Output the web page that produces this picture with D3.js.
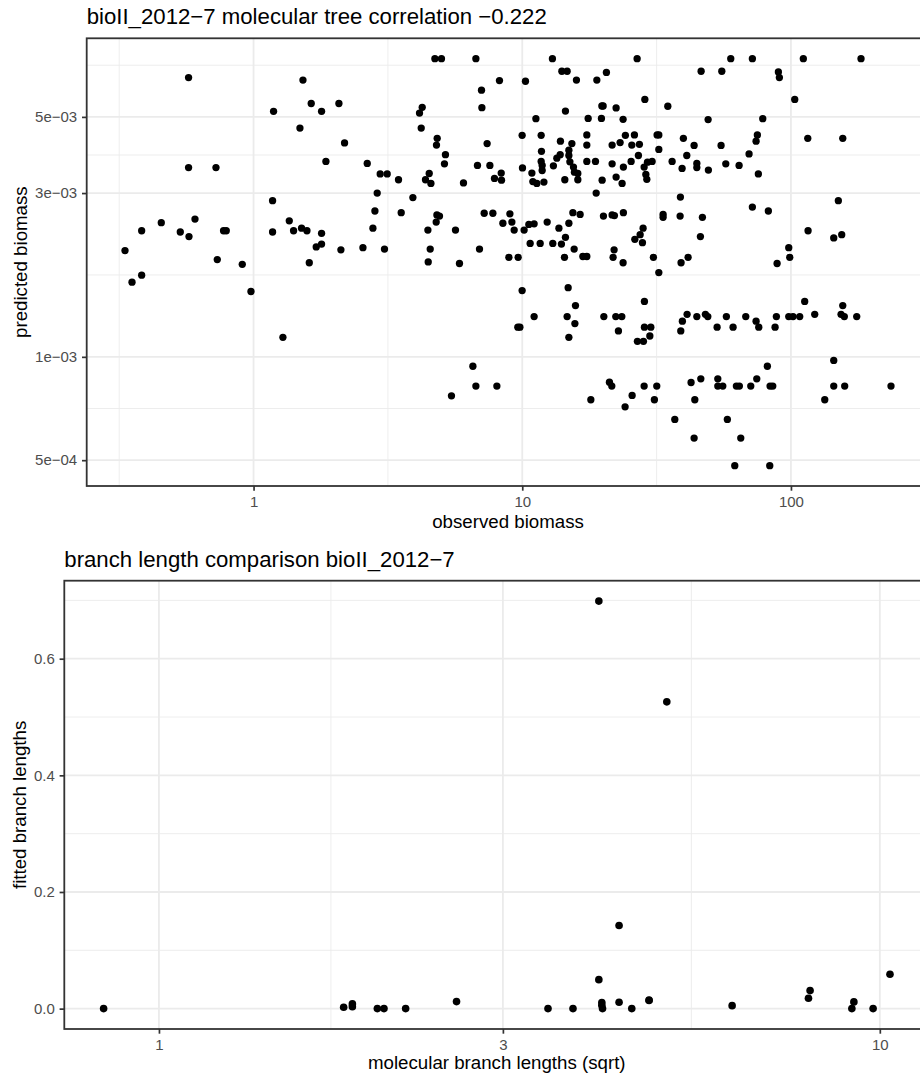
<!DOCTYPE html>
<html><head><meta charset="utf-8">
<script src="https://cdn.jsdelivr.net/npm/d3@7"></script>
<style>body{margin:0;background:#fff}svg{display:block}</style>
</head><body><svg id="c" width="920" height="1076"></svg>
<script>
// ---------- data: top panel ----------
const observedBiomass = [
0.573,1.527,4.730,5.004,1.187,1.639,1.791,2.078,1.488,2.181,
4.146,4.243,4.207,4.824,4.795,5.178,5.134,1.859,2.649,2.960,
3.143,3.463,4.505,4.364,4.571,0.573,0.7246,2.885,3.917,1.177,
2.829,3.544,4.812,4.920,4.783,0.4535,0.6053,1.358,0.3833,0.5337,
0.575,0.7732,0.7913,1.177,1.409,1.509,1.580,1.791,1.711,1.791,
2.781,4.455,5.643,0.3323,2.114,2.553,3.071,4.544,1.612,0.7328,
0.9078,4.467,5.839,0.3529,0.3833,0.978,1.286,5.452,
6.721,12.95,26.76,59.70,71.85,111.2,182.3,14.04,14.69,20.57,
46.31,55.29,89.79,90.56,8.226,10.28,15.91,18.95,7.052,7.076,
28.59,34.81,103.3,14.48,19.78,20.00,22.35,11.24,17.59,19.71,
23.73,49.17,78.54,9.99,11.76,17.39,17.39,13.87,15.30,7.40,
21.60,23.13,24.20,26.15,25.57,27.29,31.76,32.23,32.23,39.78,
43.61,54.95,74.99,74.17,115.5,155.9,11.79,14.91,14.91,13.84,
13.45,27.06,40.96,69.84,6.813,7.577,10.02,11.76,11.86,11.86,
13.06,15.04,15.51,17.39,18.73,21.60,23.79,25.42,28.42,29.24,
30.43,36.12,39.34,44.64,44.64,49.29,57.21,64.12,75.63,7.882,
8.35,8.37,10.86,10.95,11.33,12.04,14.40,15.64,16.10,16.10,
19.83,22.35,23.53,28.84,29.08,6.043,18.84,38.78,71.85,82.40,
150.1,7.217,7.774,8.995,8.47,9.149,9.330,10.16,10.58,11.07,
12.38,13.69,14.91,15.43,16.42,20.05,21.60,22.03,23.79,33.43,
33.43,38.68,46.83,10.70,11.66,12.99,13.99,14.48,15.60,26.24,
27.46,28.17,28.01,46.03,115.8,144.3,154.5,6.932,8.917,9.654,
14.36,16.81,17.39,21.97,21.78,23.73,30.77,32.23,39.00,41.42,
98.13,98.97,88.80,
9.99,14.82,15.78,11.07,14.69,15.70,14.91,9.628,9.797,20.12,
22.29,23.47,22.80,28.49,28.49,30.09,29.84,26.83,28.25,38.90,
39.44,41.07,44.64,48.04,49.04,53.11,57.50,60.90,67.89,74.17,
75.89,87.28,88.27,98.13,101.8,107.8,112.5,122.6,155.9,153.6,
158.0,175.7,6.550,6.721,8.045,18.00,21.11,21.54,24.14,25.64,
28.42,31.03,31.67,36.96,42.49,46.19,43.87,43.61,53.43,53.43,
55.76,57.99,62.65,64.27,65.05,61.79,70.87,74.61,81.70,83.61,
85.58,83.40,133.6,144.3,144.3,158.5,235.7
];
const predictedBiomass = [
6.51e-3,6.40e-3,7.39e-3,7.39e-3,5.19e-3,5.47e-3,5.19e-3,5.47e-3,4.64e-3,4.20e-3,
5.13e-3,5.33e-3,4.64e-3,4.33e-3,4.14e-3,3.88e-3,3.65e-3,3.71e-3,3.66e-3,3.41e-3,
3.41e-3,3.28e-3,3.42e-3,3.28e-3,3.20e-3,3.56e-3,3.56e-3,3.00e-3,2.91e-3,2.85e-3,
2.66e-3,2.63e-3,2.59e-3,2.57e-3,2.47e-3,2.46e-3,2.52e-3,2.49e-3,2.33e-3,2.31e-3,
2.24e-3,2.33e-3,2.33e-3,2.31e-3,2.33e-3,2.37e-3,2.33e-3,2.29e-3,2.09e-3,2.13e-3,
2.37e-3,2.34e-3,2.34e-3,2.04e-3,2.05e-3,2.08e-3,2.06e-3,2.06e-3,1.88e-3,1.92e-3,
1.86e-3,1.89e-3,1.87e-3,1.65e-3,1.73e-3,1.55e-3,1.14e-3,7.70e-4,
7.39e-3,7.39e-3,7.39e-3,7.39e-3,7.39e-3,7.39e-3,7.39e-3,6.79e-3,6.79e-3,6.74e-3,
6.79e-3,6.79e-3,6.76e-3,6.51e-3,6.38e-3,6.35e-3,6.40e-3,6.40e-3,5.98e-3,5.32e-3,
5.62e-3,5.37e-3,5.62e-3,5.20e-3,5.38e-3,5.38e-3,5.31e-3,4.94e-3,4.95e-3,4.95e-3,
4.92e-3,4.91e-3,4.94e-3,4.42e-3,4.42e-3,4.43e-3,4.14e-3,4.25e-3,4.18e-3,4.18e-3,
4.14e-3,4.21e-3,4.42e-3,4.43e-3,4.14e-3,4.16e-3,4.43e-3,4.43e-3,4.02e-3,4.33e-3,
4.13e-3,4.13e-3,4.43e-3,4.25e-3,4.33e-3,4.33e-3,3.97e-3,4.00e-3,3.86e-3,3.88e-3,
3.79e-3,3.86e-3,3.86e-3,3.90e-3,3.61e-3,3.61e-3,3.55e-3,3.71e-3,3.61e-3,3.49e-3,
3.60e-3,3.70e-3,3.57e-3,3.71e-3,3.71e-3,3.65e-3,3.57e-3,3.71e-3,3.57e-3,3.69e-3,
3.71e-3,3.71e-3,3.54e-3,3.66e-3,3.56e-3,3.50e-3,3.65e-3,3.61e-3,3.41e-3,3.31e-3,
3.43e-3,3.27e-3,3.43e-3,3.24e-3,3.20e-3,3.23e-3,3.28e-3,3.45e-3,3.42e-3,3.28e-3,
3.27e-3,3.34e-3,3.20e-3,3.40e-3,3.29e-3,3.21e-3,3.00e-3,2.92e-3,2.73e-3,2.66e-3,
2.85e-3,2.62e-3,2.62e-3,2.61e-3,2.45e-3,2.47e-3,2.34e-3,2.34e-3,2.43e-3,2.44e-3,
2.47e-3,2.37e-3,2.45e-3,2.63e-3,2.60e-3,2.57e-3,2.59e-3,2.58e-3,2.63e-3,2.60e-3,
2.55e-3,2.57e-3,2.55e-3,2.14e-3,2.14e-3,2.14e-3,2.13e-3,2.23e-3,2.06e-3,2.20e-3,
2.27e-3,2.37e-3,2.15e-3,2.24e-3,2.33e-3,2.22e-3,2.27e-3,2.06e-3,1.95e-3,1.95e-3,
1.95e-3,1.96e-3,1.96e-3,2.05e-3,1.95e-3,1.88e-3,1.95e-3,1.76e-3,1.88e-3,1.95e-3,
2.08e-3,1.95e-3,1.87e-3,
1.56e-3,1.59e-3,1.41e-3,1.31e-3,1.31e-3,1.25e-3,1.14e-3,1.22e-3,1.22e-3,1.31e-3,
1.31e-3,1.31e-3,1.19e-3,1.45e-3,1.22e-3,1.22e-3,1.15e-3,1.11e-3,1.11e-3,1.19e-3,
1.27e-3,1.33e-3,1.31e-3,1.33e-3,1.31e-3,1.22e-3,1.31e-3,1.22e-3,1.31e-3,1.27e-3,
1.22e-3,1.22e-3,1.31e-3,1.31e-3,1.31e-3,1.31e-3,1.45e-3,1.33e-3,1.41e-3,1.33e-3,
1.31e-3,1.31e-3,9.39e-4,8.22e-4,8.22e-4,7.50e-4,8.44e-4,8.22e-4,7.15e-4,7.72e-4,
8.22e-4,7.50e-4,8.22e-4,6.57e-4,8.42e-4,8.63e-4,7.50e-4,5.80e-4,8.63e-4,8.22e-4,
8.22e-4,6.57e-4,8.22e-4,8.22e-4,5.80e-4,4.82e-4,8.22e-4,8.63e-4,9.39e-4,8.22e-4,
8.22e-4,4.82e-4,7.50e-4,9.76e-4,8.22e-4,8.22e-4,8.22e-4
];
// ---------- data: bottom panel ----------
const molecularBranch = [0.838,1.804,1.855,1.855,2.009,2.052,2.199,2.587,3.465,3.753,
  4.076,4.115,4.115,4.124,4.076,4.348,4.348,4.528,4.785,4.785,5.064,6.239,7.962,8.003,
  9.205,9.146,9.788,10.33];
const fittedBranch = [0,0.0024,0.0081,0.0034,0,0,0,0.012,0,0,
  0.0497,0.0103,0.0058,0,0.6988,0.1424,0.011,0,0.0149,0.014,0.526,0.0051,0.0178,0.0309,
  0.0115,0,0,0.059];

// ---------- ticks / labels ----------
const topTitle = "bioII_2012\u22127 molecular tree correlation \u22120.222";
const topXTitle = "observed biomass", topYTitle = "predicted biomass";
const topXBreaks = [0.1, 1, 10, 100, 1000];
const topXTicks = [1, 10, 100], topXLabels = ["1", "10", "100"];
const topYBreaks = [5e-4, 1e-3, 3e-3, 5e-3, 1e-2];
const topYTicks = [5e-4, 1e-3, 3e-3, 5e-3], topYLabels = ["5e\u221204", "1e\u221203", "3e\u221203", "5e\u221203"];

const botTitle = "branch length comparison bioII_2012\u22127";
const botXTitle = "molecular branch lengths (sqrt)", botYTitle = "fitted branch lengths";
const botXBreaks = [0.3, 1, 3, 10, 30];
const botXTicks = [1, 3, 10], botXLabels = ["1", "3", "10"];
const botYBreaks = [-0.2, 0, 0.2, 0.4, 0.6, 0.8];
const botYTicks = [0, 0.2, 0.4, 0.6], botYLabels = ["0.0", "0.2", "0.4", "0.6"];

// ---------- drawing ----------
const FONT = '"Liberation Sans", Arial, Helvetica, sans-serif';
const svg = d3.select("#c");
svg.append("rect").attr("width", 920).attr("height", 1076).attr("fill", "#fff");

function expandLog(v){const lo=Math.log10(d3.min(v)),hi=Math.log10(d3.max(v)),p=(hi-lo)*0.05;return [10**(lo-p),10**(hi+p)];}
function expandLin(v){const lo=d3.min(v),hi=d3.max(v),p=(hi-lo)*0.05;return [lo-p,hi+p];}
function minors(breaks, log){const m=[];for(let i=0;i<breaks.length-1;i++){m.push(log?Math.sqrt(breaks[i]*breaks[i+1]):(breaks[i]+breaks[i+1])/2);}return m;}

let clipN = 0;
function panel(o){
  const g = svg.append("g");
  const x = (o.xlog ? d3.scaleLog() : d3.scaleLinear()).domain(o.xlog ? expandLog(o.xs) : expandLin(o.xs)).range([o.left, o.right]);
  const y = (o.ylog ? d3.scaleLog() : d3.scaleLinear()).domain(o.ylog ? expandLog(o.ys) : expandLin(o.ys)).range([o.bottom, o.top]);
  const [xa, xb] = x.domain(), [ya, yb] = y.domain();
  const inX = v => v >= xa && v <= xb, inY = v => v >= ya && v <= yb;
  const id = "clip" + (clipN++);
  svg.append("clipPath").attr("id", id).append("rect")
    .attr("x", o.left).attr("y", o.top).attr("width", o.right - o.left).attr("height", o.bottom - o.top);
  const gp = g.append("g").attr("clip-path", `url(#${id})`);
  // minor grid
  gp.selectAll(".mx").data(minors(o.xBreaks, o.xlog).filter(inX)).join("line")
    .attr("x1", d => x(d)).attr("x2", d => x(d)).attr("y1", o.top).attr("y2", o.bottom)
    .attr("stroke", "#EBEBEB").attr("stroke-width", 0.9);
  gp.selectAll(".my").data(minors(o.yBreaks, o.ylog).filter(inY)).join("line")
    .attr("y1", d => y(d)).attr("y2", d => y(d)).attr("x1", o.left).attr("x2", o.right)
    .attr("stroke", "#EBEBEB").attr("stroke-width", 0.9);
  // major grid
  gp.selectAll(".Mx").data(o.xTicks).join("line")
    .attr("x1", d => x(d)).attr("x2", d => x(d)).attr("y1", o.top).attr("y2", o.bottom)
    .attr("stroke", "#EBEBEB").attr("stroke-width", 1.8);
  gp.selectAll(".My").data(o.yTicks).join("line")
    .attr("y1", d => y(d)).attr("y2", d => y(d)).attr("x1", o.left).attr("x2", o.right)
    .attr("stroke", "#EBEBEB").attr("stroke-width", 1.8);
  // points
  gp.selectAll("circle").data(o.xs.map((v, i) => [v, o.ys[i]])).join("circle")
    .attr("cx", d => x(d[0])).attr("cy", d => y(d[1])).attr("r", o.r).attr("fill", "#000");
  // border
  g.append("rect").attr("x", o.left).attr("y", o.top).attr("width", o.right - o.left).attr("height", o.bottom - o.top)
    .attr("fill", "none").attr("stroke", "#333333").attr("stroke-width", 1.8);
  // axes
  const ax = g.append("g").attr("transform", `translate(0,${o.bottom})`)
    .call(d3.axisBottom(x).tickValues(o.xTicks).tickFormat((d, i) => o.xLabels[i]).tickSizeInner(4.7).tickSizeOuter(0).tickPadding(5.6));
  const ay = g.append("g").attr("transform", `translate(${o.left},0)`)
    .call(d3.axisLeft(y).tickValues(o.yTicks).tickFormat((d, i) => o.yLabels[i]).tickSizeInner(4.7).tickSizeOuter(0).tickPadding(4.8));
  [ax, ay].forEach(a => {
    a.select(".domain").remove();
    a.selectAll(".tick line").attr("stroke", "#333333").attr("stroke-width", 1.7);
    a.selectAll(".tick text").attr("fill", "#4D4D4D").style("font-family", FONT).style("font-size", "15px");
  });
  // titles
  g.append("text").attr("x", o.left).attr("y", o.titleY).text(o.title)
    .style("font-family", FONT).style("font-size", "22.2px").attr("fill", "#000");
  g.append("text").attr("x", (o.left + o.right) / 2).attr("y", o.xTitleY).attr("text-anchor", "middle").text(o.xTitle)
    .style("font-family", FONT).style("font-size", "18.7px").attr("fill", "#000");
  g.append("text").attr("transform", `translate(${o.yTitleX},${(o.top + o.bottom) / 2}) rotate(-90)`).attr("text-anchor", "middle").text(o.yTitle)
    .style("font-family", FONT).style("font-size", "18.7px").attr("fill", "#000");
}

panel({xs: observedBiomass, ys: predictedBiomass, xlog: true, ylog: true,
  left: 86.7, right: 929.3, top: 38.3, bottom: 486, r: 3.65,
  xBreaks: topXBreaks, xTicks: topXTicks, xLabels: topXLabels,
  yBreaks: topYBreaks, yTicks: topYTicks, yLabels: topYLabels,
  title: topTitle, titleY: 24, xTitle: topXTitle, xTitleY: 528.3, yTitle: topYTitle, yTitleX: 27});

panel({xs: molecularBranch, ys: fittedBranch, xlog: true, ylog: false,
  left: 64.3, right: 929.3, top: 580.7, bottom: 1029, r: 3.8,
  xBreaks: botXBreaks, xTicks: botXTicks, xLabels: botXLabels,
  yBreaks: botYBreaks, yTicks: botYTicks, yLabels: botYLabels,
  title: botTitle, titleY: 566.7, xTitle: botXTitle, xTitleY: 1069.3, yTitle: botYTitle, yTitleX: 26});
</script></body></html>
